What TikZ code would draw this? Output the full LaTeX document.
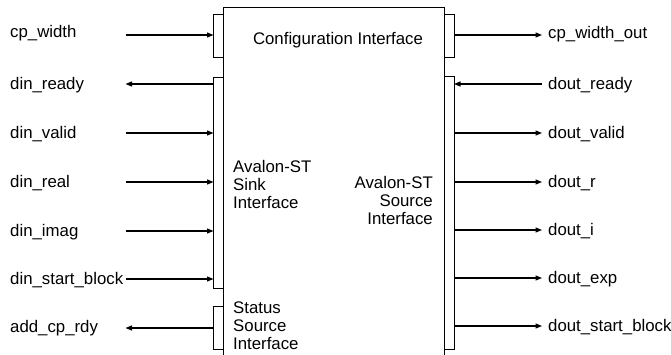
\documentclass[tikz,border=0pt]{standalone}
\usepackage{fontspec}
\setmainfont{Liberation Sans}
\usetikzlibrary{arrows.meta}
\tikzset{
  box/.style={draw=black, line width=1pt},
  sig/.style={line width=1.2pt, -{Triangle[length=6.5pt,width=5pt]}},
  lbl/.style={anchor=base west, inner sep=0pt, yshift=-5.7pt, font=\fontsize{16.8}{18}\selectfont},
  txt/.style={inner sep=0pt, font=\fontsize{16.8}{18}\selectfont},
}
\begin{document}
\begin{tikzpicture}[x=1pt,y=-1pt]
\clip (0,0) rectangle (671,354);
\useasboundingbox (0,0) rectangle (671,354);
% main block
\draw[box] (223,7) rectangle (444,380);
% left ports
\draw[box] (213.5,14) rectangle (223,57);
\draw[box] (213.5,77) rectangle (223,288);
\draw[box] (213.5,306) rectangle (223,349);
% right ports
\draw[box] (444,14) rectangle (454,57);
\draw[box] (444,76) rectangle (454,349);

% inner texts
\node[txt, anchor=base] (cfg) at (338,44.5) {Configuration Interface};
\node[txt, anchor=base west] (sk1) at (233,172) {Avalon-ST};
\node[txt, anchor=base west] (sk2) at (233,190) {Sink};
\node[txt, anchor=base west] (sk3) at (233,208) {Interface};
\node[txt, anchor=base east] (so1) at (433,188.3) {Avalon-ST};
\node[txt, anchor=base east] (so2) at (433,206.3) {Source};
\node[txt, anchor=base east] (so3) at (433,224.3) {Interface};
\node[txt, anchor=base west] (st1) at (233,313.3) {Status};
\node[txt, anchor=base west] (st2) at (233,331.3) {Source};
\node[txt, anchor=base west] (st3) at (233,349.3) {Interface};

% left signals
\foreach \n/\y in {a/35,b/84,c/133,d/182,e/231,f/279,g/328}{
  \coordinate (L\n) at (125.5,\y);
  \coordinate (P\n) at (213.5,\y);
}
\node[lbl, yshift=3pt] (tcp) at (10,35) {cp\_width};
\node[lbl] (trdy) at (10,84) {din\_ready};
\node[lbl] (tval) at (10,133) {din\_valid};
\node[lbl] (treal) at (10,182) {din\_real};
\node[lbl] (timag) at (10,231) {din\_imag};
\node[lbl] (tsb) at (10,279) {din\_start\_block};
\node[lbl, yshift=1pt] (tadd) at (10,328) {add\_cp\_rdy};
\draw[sig] (La) -- (Pa);
\draw[sig] (Pb) -- (Lb);
\draw[sig] (Lc) -- (Pc);
\draw[sig] (Ld) -- (Pd);
\draw[sig] (Le) -- (Pe);
\draw[sig] (Lf) -- (Pf);
\draw[sig] (Pg) -- (Lg);

% right signals
\foreach \n/\y in {a/35,b/84,c/133,d/182,e/230,f/278,g/326}{
  \coordinate (Q\n) at (454,\y);
  \coordinate (R\n) at (542,\y);
}
\node[lbl, yshift=2.5pt] (ucp) at (548,35) {cp\_width\_out};
\node[lbl] (urdy) at (548,84) {dout\_ready};
\node[lbl] (uval) at (548,133) {dout\_valid};
\node[lbl] (ur) at (548,182) {dout\_r};
\node[lbl] (ui) at (548,230) {dout\_i};
\node[lbl] (uexp) at (548,278) {dout\_exp};
\node[lbl] (usb) at (548,326) {dout\_start\_block};
\draw[sig] (Qa) -- (Ra);
\draw[sig] (Rb) -- (Qb);
\draw[sig] (Qc) -- (Rc);
\draw[sig] (Qd) -- (Rd);
\draw[sig] (Qe) -- (Re);
\draw[sig] (Qf) -- (Rf);
\draw[sig] (Qg) -- (Rg);
\end{tikzpicture}
\end{document}
